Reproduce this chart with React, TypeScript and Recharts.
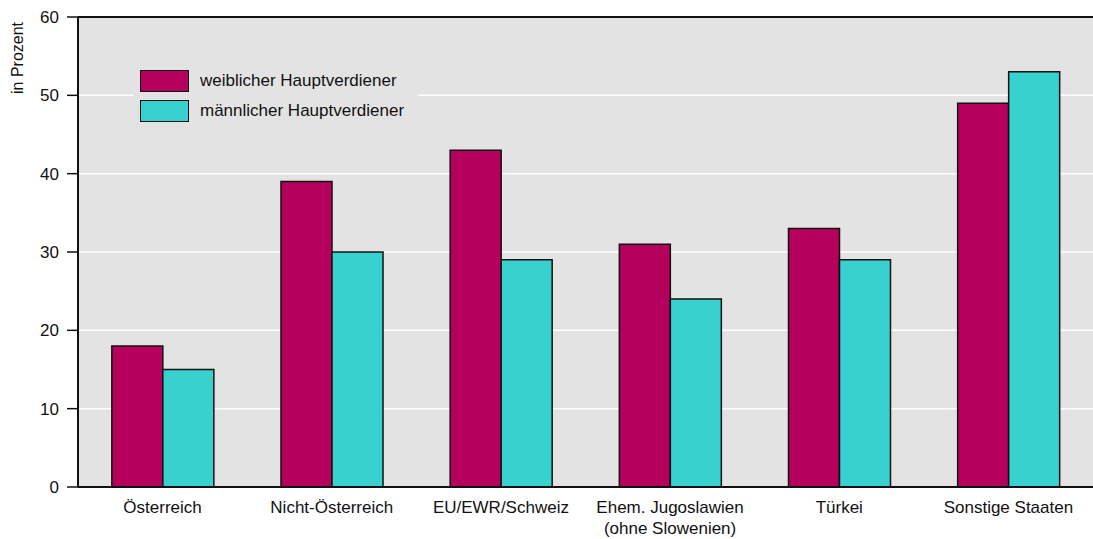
import { BarChart, Bar, XAxis, YAxis, CartesianGrid, ReferenceLine } from 'recharts'

const categories = ['Österreich', 'Nicht-Österreich', 'EU/EWR/Schweiz', 'Ehem. Jugoslawien\n(ohne Slowenien)', 'Türkei', 'Sonstige Staaten']
const weiblich = [18, 39, 43, 31, 33, 49]
const maennlich = [15, 30, 29, 24, 29, 53]
const yTicks = [0, 10, 20, 30, 40, 50, 60]

const data = categories.map((name, i) => ({ name, weiblich: weiblich[i], maennlich: maennlich[i] }))

const FONT = '"Liberation Sans", Arial, sans-serif'
const PINK = '#b5005e'
const CYAN = '#38d1cf'
const BG = '#e3e3e3'

function XTick(props: any) {
  const { x, y, payload } = props
  const lines = String(payload.value).split('\n')
  return (
    <text x={x} y={y} textAnchor="middle" fontSize={17} fill="#111" fontFamily={FONT}>
      {lines.map((l, i) => (
        <tspan key={i} x={x} dy={i === 0 ? 18 : 21}>{l}</tspan>
      ))}
    </text>
  )
}

function LegendBox() {
  const items = [
    { label: 'weiblicher Hauptverdiener', color: PINK },
    { label: 'männlicher Hauptverdiener', color: CYAN },
  ]
  return (
    <div style={{ position: 'absolute', left: 133, top: 62, background: BG, padding: '4px 14px 4px 7px', fontFamily: FONT, fontSize: 17, color: '#111' }}>
      {items.map((it) => (
        <div key={it.label} style={{ display: 'flex', alignItems: 'center', height: 30 }}>
          <span style={{ display: 'inline-block', width: 47, height: 20, background: it.color, border: '1.5px solid #111', marginRight: 11 }} />
          {it.label}
        </div>
      ))}
    </div>
  )
}

export default function App() {
  return (
    <div style={{ position: 'absolute', left: 0, top: 0, width: 1093, height: 539, background: '#fff' }}>
      <BarChart width={1093} height={539} data={data} margin={{ top: 17, right: 0, left: 0, bottom: 0 }} barCategoryGap="20%" barGap={0}>
        <CartesianGrid vertical={false} stroke="#ffffff" strokeWidth={1.5} fill={BG} />
        <XAxis dataKey="name" tickLine={false} axisLine={{ stroke: '#111', strokeWidth: 2 }} tick={<XTick />} interval={0} height={52} />
        <YAxis
          width={78}
          domain={[0, 60]}
          ticks={yTicks}
          tickSize={11}
          tickMargin={8}
          axisLine={{ stroke: '#111', strokeWidth: 2 }}
          tickLine={{ stroke: '#111', strokeWidth: 1.5 }}
          tick={{ fontSize: 17, fill: '#111', fontFamily: FONT }}
          label={{
            content: () => (
              <text x={23} y={58} transform="rotate(-90 23 58)" textAnchor="middle" fontSize={16} fill="#111" fontFamily={FONT}>in Prozent</text>
            ),
          }}
        />
        <ReferenceLine y={60} stroke="#111" strokeWidth={2} />
        <Bar dataKey="weiblich" fill={PINK} stroke="#111" strokeWidth={1.5} isAnimationActive={false} />
        <Bar dataKey="maennlich" fill={CYAN} stroke="#111" strokeWidth={1.5} isAnimationActive={false} />
      </BarChart>
      <LegendBox />
    </div>
  )
}
